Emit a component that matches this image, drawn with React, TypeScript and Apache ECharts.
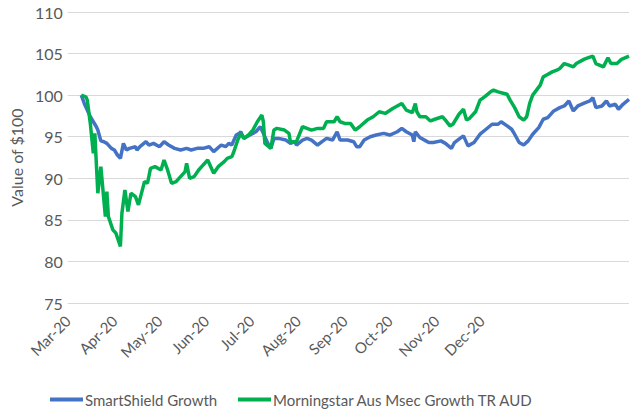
import React, { useEffect, useRef } from "react";
import * as echarts from "echarts";

// x values: days since 1 March 2020
const monthLabels = ["Mar-20", "Apr-20", "May-20", "Jun-20", "Jul-20", "Aug-20", "Sep-20", "Oct-20", "Nov-20", "Dec-20"];
const yTicks = { min: 75, max: 110, interval: 5 };
const xMaxDay = 373;

const smartShieldDays = [
  9, 11, 15, 19, 20, 22, 24, 26, 29, 31, 33, 35, 37, 39, 41, 45, 46, 48, 52, 54, 57, 61, 64, 67, 71, 75, 79, 82, 86, 90,
  94, 97, 102, 105, 107, 109, 112, 114, 115, 117, 121, 125, 128, 130, 133, 135, 137, 140, 145, 148, 151, 152, 156, 159,
  162, 166, 169, 172, 176, 179, 181, 186, 190, 192, 194, 197, 201, 205, 210, 214, 219, 222, 225, 229, 230, 231, 234, 238,
  240, 243, 248, 251, 255, 257, 260, 263, 266, 270, 274, 278, 282, 286, 288, 292, 295, 297, 300, 303, 306, 309, 313, 316,
  319, 323, 327, 330, 333, 336, 339, 344, 347, 349, 351, 355, 358, 360, 364, 366, 369, 373,
];
const smartShieldValues = [
  100, 99, 97.4, 96.2, 95.8, 94.5, 94.4, 94.2, 93.6, 93.4, 92.8, 92.4, 94.2, 93.4, 93.6, 93.8, 93.4, 93.8, 94.4, 94, 94.2,
  93.8, 94.4, 94, 93.6, 93.4, 93.6, 93.4, 93.6, 93.6, 93.8, 93.2, 94, 93.8, 94.2, 94, 95.2, 95.4, 95.6, 94.8, 95.2, 95.6,
  96.2, 95.4, 94.2, 93.6, 94.8, 94.8, 94.6, 94.2, 94.4, 94, 94.6, 94.8, 94.6, 94, 94.4, 94.8, 94.6, 95.6, 94.6, 94.6, 94.4,
  93.8, 93.8, 94.6, 95, 95.2, 95.4, 95.2, 95.6, 96, 95.6, 95.2, 94.4, 95.6, 94.9, 94.5, 94.3, 94.3, 94.5, 94.2, 93.6, 94.3,
  94.7, 95.1, 93.9, 94.3, 95.3, 95.9, 96.5, 96.5, 96.8, 96.3, 95.9, 95.3, 94.3, 94, 94.5, 95.3, 96.1, 97.1, 97.3, 98.1,
  98.5, 98.7, 99.3, 98.1, 98.7, 99.1, 99.3, 99.7, 98.5, 98.7, 99.3, 98.7, 98.9, 98.3, 98.9, 99.5,
];

const morningstarDays = [
  9, 12, 13, 15, 17, 18, 20, 22, 24, 25, 26, 27, 30, 32, 35, 36, 38, 40, 42, 45, 47, 51, 53, 55, 58, 62, 64, 66, 69, 72,
  75, 78, 79, 81, 84, 87, 89, 93, 97, 100, 104, 106, 109, 110, 113, 115, 117, 120, 123, 126, 129, 130, 131, 135, 137,
  139, 144, 147, 148, 152, 156, 159, 162, 166, 170, 172, 177, 179, 181, 184, 188, 191, 194, 199, 203, 207, 211, 216, 222,
  225, 229, 231, 232, 234, 238, 241, 244, 249, 251, 254, 256, 260, 263, 265, 267, 271, 274, 277, 281, 283, 286, 290, 292,
  294, 297, 300, 303, 305, 307, 309, 314, 316, 318, 322, 325, 327, 330, 333, 336, 338, 343, 346, 349, 351, 356, 359, 361,
  365, 368, 373,
];
const morningstarValues = [
  100, 99.8, 99.4, 96.6, 93, 95.4, 88.2, 91.4, 87.4, 85.4, 88.4, 85.4, 83.8, 83.4, 81.8, 85.8, 88.6, 86, 88.2, 87.8, 86.8,
  89.6, 89.4, 91.2, 91.4, 91, 92.2, 91.2, 89.4, 89.6, 90.2, 90.8, 91.8, 90, 90.2, 91, 91.4, 92.2, 90.6, 91.4, 92, 92.4,
  92.6, 93, 94.6, 95.4, 94.8, 95.2, 95.8, 96.8, 97.6, 96.8, 94.2, 93.6, 95.8, 96, 95.8, 95.4, 94.4, 94.4, 96.2, 96, 95.8,
  96, 96, 96.8, 96.8, 97.4, 96.8, 96.6, 96.6, 95.8, 96.2, 97, 97.4, 98, 97.8, 98.4, 99, 98.2, 97.9, 99, 98, 97.4, 97.4,
  96.9, 97.1, 97.4, 97, 96.3, 96.5, 97.7, 98.3, 97, 97.2, 98, 99.4, 99.8, 100.4, 100.6, 100.4, 100.2, 100.1, 99.4, 98.5,
  97.4, 97, 97.4, 99, 100, 101.2, 102.2, 102.4, 102.8, 103, 103.2, 103.8, 103.6, 103.4, 103.8, 104.3, 104.5, 104.7, 103.8,
  103.4, 104.5, 103.8, 103.8, 104.3, 104.7,
];

const seriesNames = ["SmartShield Growth", "Morningstar Aus Msec Growth TR AUD"];
const seriesColors = ["#4472C4", "#00B050"];

const DAY_MS = 86400000;
const monthOffsets = monthLabels.map((_, i) => Math.round((Date.UTC(2020, 2 + i, 1) - Date.UTC(2020, 2, 1)) / DAY_MS));

const zip = (xs: number[], ys: number[]) => xs.map((x, i) => [x, ys[i]]);

export default function App() {
  const ref = useRef<HTMLDivElement>(null);
  useEffect(() => {
    document.body.style.margin = "0";
    if (!ref.current) return;
    const chart = echarts.init(ref.current, null, { renderer: "svg" });
    const textColor = "#595959";
    const font = "Lato";
    const legendBase = {
      top: 387,
      icon: "rect",
      itemWidth: 33,
      itemHeight: 4,
      textStyle: { color: textColor, fontFamily: font, fontSize: 15, padding: [0, 0, 0, -3] },
    };
    chart.setOption({
      animation: false,
      backgroundColor: "#ffffff",
      grid: { left: 67, right: 1, top: 12, bottom: 107, containLabel: false },
      legend: [
        { ...legendBase, data: [seriesNames[0]], left: 45 },
        { ...legendBase, data: [seriesNames[1]], left: 233 },
      ],
      xAxis: {
        type: "value",
        min: 0,
        max: xMaxDay,
        splitLine: { show: false },
        axisLine: { show: false },
        axisTick: { show: false },
        axisLabel: {
          customValues: monthOffsets,
          rotate: 45,
          margin: 15,
          color: textColor,
          fontFamily: font,
          fontSize: 15,
          formatter: (v: number) => {
            const i = monthOffsets.indexOf(Math.round(v));
            return i >= 0 ? monthLabels[i] : "";
          },
        },
      },
      yAxis: {
        type: "value",
        min: yTicks.min,
        max: yTicks.max,
        interval: yTicks.interval,
        name: "Value of $100",
        nameLocation: "middle",
        nameGap: 41,
        nameTextStyle: { color: textColor, fontFamily: font, fontSize: 16 },
        axisLine: { show: false },
        axisTick: { show: false },
        splitLine: { lineStyle: { color: "#D9D9D9", width: 1 } },
        axisLabel: { color: textColor, fontFamily: font, fontSize: 16, margin: 5 },
      },
      series: [
        {
          name: seriesNames[0],
          type: "line",
          data: zip(smartShieldDays, smartShieldValues),
          showSymbol: false,
          lineStyle: { color: seriesColors[0], width: 3.5 },
          itemStyle: { color: seriesColors[0] },
        },
        {
          name: seriesNames[1],
          type: "line",
          data: zip(morningstarDays, morningstarValues),
          showSymbol: false,
          lineStyle: { color: seriesColors[1], width: 3.5 },
          itemStyle: { color: seriesColors[1] },
        },
      ],
    });
    return () => chart.dispose();
  }, []);
  return <div ref={ref} style={{ width: 630, height: 410, position: "absolute", left: 0, top: 0 }} />;
}
